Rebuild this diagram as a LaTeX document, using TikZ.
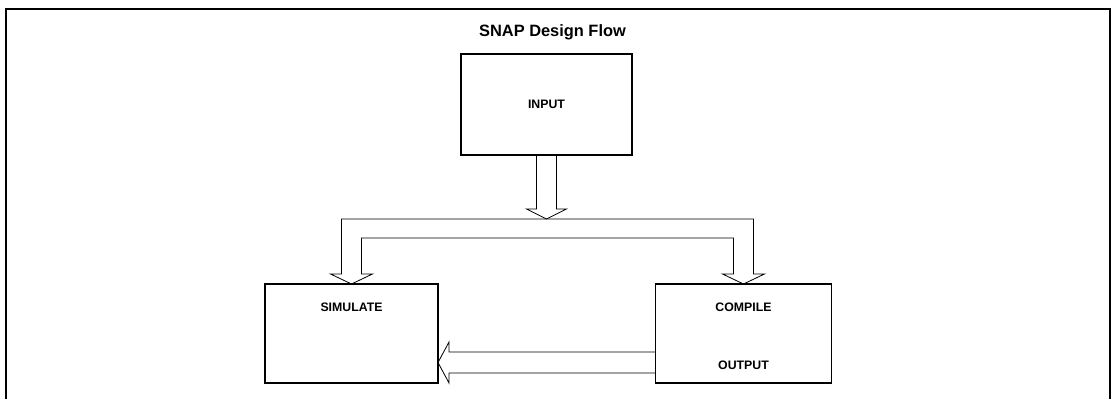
\documentclass[tikz,border=0pt]{standalone}
\usepackage{fontspec}
\setmainfont{Liberation Sans}
\usetikzlibrary{calc, positioning}
\begin{document}
\begin{tikzpicture}[x=0.03cm, y=-0.03cm,
      box/.style={rectangle, draw=black, line width=1.6pt, outer sep=0pt, inner sep=0pt,
                  font=\fontsize{10.5}{12}\selectfont\bfseries},
      lbl/.style={font=\fontsize{10.5}{12}\selectfont\bfseries, anchor=base, inner sep=0pt},
      hollow/.style={draw=black, line width=0.7pt, line join=miter}]
      \useasboundingbox (0,0) rectangle (1112,399);
      % Frame, open at the bottom
      \draw[line width=1.6pt] (6,405) -- (6,9) -- (1110,9) -- (1110,405);
      \node[lbl, font=\fontsize{14}{16}\selectfont\bfseries] (title) at (552.5,37) {SNAP Design Flow};
      % Boxes
      \node[box, minimum width=5.13cm, minimum height=3.03cm] (input) at (546.5,104.5) {INPUT};
      \node[box, minimum width=5.19cm, minimum height=2.97cm] (sim) at (351.5,333.5) {};
      \node[box, minimum width=5.28cm, minimum height=2.97cm] (comp) at (743.5,333.5) {};
      \node[lbl] (simtxt) at (351.5,312) {SIMULATE};
      \node[lbl] (comptxt) at (743.5,312) {COMPILE};
      \node[lbl] (outtxt) at (743.5,369) {OUTPUT};
      % Hollow arrows
      \coordinate (fork) at (546.5,219);
      \coordinate (back) at ($(sim.south east)+(0,-20.5)$);
      \draw[hollow] ($(input.south)+(-10,0)$) -- ($(fork)+(-10,-10)$) -- ($(fork)+(-20,-10)$) -- (fork)
            -- ($(fork)+(20,-10)$) -- ($(fork)+(10,-10)$) -- ($(input.south)+(10,0)$) -- cycle;
      \draw[hollow] (sim.north) -- ++(-21,-10) -- ++(11,0) -- ($(fork -| sim.north)+(-10,0)$)
            -- ($(fork -| comp.north)+(10,0)$) -- ($(comp.north)+(10,-10)$) -- ++(11,0) -- (comp.north)
            -- ++(-21,-10) -- ++(11,0) -- ($(fork -| comp.north)+(-10,19)$)
            -- ($(fork -| sim.north)+(10,19)$) -- ($(sim.north)+(10,-10)$) -- ++(11,0) -- cycle;
      \draw[hollow] (back) -- ++(11,-20.5) -- ++(0,10) -- ($(back -| comp.west)+(0,-10.5)$)
            -- ($(back -| comp.west)+(0,10.5)$) -- ($(back)+(11,10.5)$) -- ++(0,10) -- cycle;
   \end{tikzpicture}
\end{document}
